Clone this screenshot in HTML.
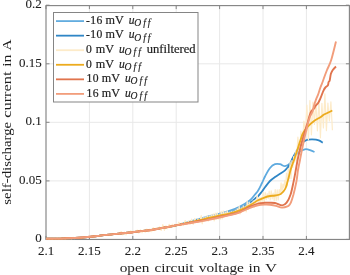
<!DOCTYPE html>
<html><head><meta charset="utf-8"><style>
html,body{margin:0;padding:0;background:#fff;width:350px;height:275px;overflow:hidden}
svg{display:block;will-change:transform;font-family:"Liberation Serif",serif;fill:#1e1e1e;font-variant-ligatures:none}
text{font-size:12.5px;font-family:"Liberation Serif",serif;font-variant-ligatures:none}
.tk{font-size:13px;stroke:#1e1e1e;stroke-width:0.1px}
.lt{font-size:11.6px;stroke:#1e1e1e;stroke-width:0.2px}
.ls{font-size:9.6px;stroke:#1e1e1e;stroke-width:0.15px}
.it{font-style:italic}
</style></head><body>
<svg width="350" height="275" viewBox="0 0 350 275">
<rect x="0" y="0" width="350" height="275" fill="#fff"/>
<line x1="89.4" y1="5.6" x2="89.4" y2="239.45" stroke="#e8e8e8" stroke-width="1"/>
<line x1="132.8" y1="5.6" x2="132.8" y2="239.45" stroke="#e8e8e8" stroke-width="1"/>
<line x1="176.2" y1="5.6" x2="176.2" y2="239.45" stroke="#e8e8e8" stroke-width="1"/>
<line x1="219.6" y1="5.6" x2="219.6" y2="239.45" stroke="#e8e8e8" stroke-width="1"/>
<line x1="263.0" y1="5.6" x2="263.0" y2="239.45" stroke="#e8e8e8" stroke-width="1"/>
<line x1="306.4" y1="5.6" x2="306.4" y2="239.45" stroke="#e8e8e8" stroke-width="1"/>
<line x1="46.0" y1="180.9" x2="349.4" y2="180.9" stroke="#e8e8e8" stroke-width="1"/>
<line x1="46.0" y1="122.3" x2="349.4" y2="122.3" stroke="#e8e8e8" stroke-width="1"/>
<line x1="46.0" y1="63.8" x2="349.4" y2="63.8" stroke="#e8e8e8" stroke-width="1"/>
<rect x="46.0" y="5.6" width="303.40" height="233.85" fill="none" stroke="#858585" stroke-width="1.15"/>
<line x1="46.0" y1="239.45" x2="46.0" y2="235.95" stroke="#858585" stroke-width="1"/>
<line x1="46.0" y1="5.6" x2="46.0" y2="9.1" stroke="#858585" stroke-width="1"/>
<line x1="89.4" y1="239.45" x2="89.4" y2="235.95" stroke="#858585" stroke-width="1"/>
<line x1="89.4" y1="5.6" x2="89.4" y2="9.1" stroke="#858585" stroke-width="1"/>
<line x1="132.8" y1="239.45" x2="132.8" y2="235.95" stroke="#858585" stroke-width="1"/>
<line x1="132.8" y1="5.6" x2="132.8" y2="9.1" stroke="#858585" stroke-width="1"/>
<line x1="176.2" y1="239.45" x2="176.2" y2="235.95" stroke="#858585" stroke-width="1"/>
<line x1="176.2" y1="5.6" x2="176.2" y2="9.1" stroke="#858585" stroke-width="1"/>
<line x1="219.6" y1="239.45" x2="219.6" y2="235.95" stroke="#858585" stroke-width="1"/>
<line x1="219.6" y1="5.6" x2="219.6" y2="9.1" stroke="#858585" stroke-width="1"/>
<line x1="263.0" y1="239.45" x2="263.0" y2="235.95" stroke="#858585" stroke-width="1"/>
<line x1="263.0" y1="5.6" x2="263.0" y2="9.1" stroke="#858585" stroke-width="1"/>
<line x1="306.4" y1="239.45" x2="306.4" y2="235.95" stroke="#858585" stroke-width="1"/>
<line x1="306.4" y1="5.6" x2="306.4" y2="9.1" stroke="#858585" stroke-width="1"/>
<line x1="46.0" y1="239.4" x2="49.5" y2="239.4" stroke="#858585" stroke-width="1"/>
<line x1="349.4" y1="239.4" x2="345.9" y2="239.4" stroke="#858585" stroke-width="1"/>
<line x1="46.0" y1="180.9" x2="49.5" y2="180.9" stroke="#858585" stroke-width="1"/>
<line x1="349.4" y1="180.9" x2="345.9" y2="180.9" stroke="#858585" stroke-width="1"/>
<line x1="46.0" y1="122.3" x2="49.5" y2="122.3" stroke="#858585" stroke-width="1"/>
<line x1="349.4" y1="122.3" x2="345.9" y2="122.3" stroke="#858585" stroke-width="1"/>
<line x1="46.0" y1="63.8" x2="49.5" y2="63.8" stroke="#858585" stroke-width="1"/>
<line x1="349.4" y1="63.8" x2="345.9" y2="63.8" stroke="#858585" stroke-width="1"/>
<line x1="46.0" y1="5.2" x2="49.5" y2="5.2" stroke="#858585" stroke-width="1"/>
<line x1="349.4" y1="5.2" x2="345.9" y2="5.2" stroke="#858585" stroke-width="1"/>
<path d="M46.0,238.6 C48.3,238.6 55.2,238.7 60.0,238.6 C64.8,238.5 70.0,238.3 75.0,238.0 C80.0,237.7 85.8,237.2 90.0,236.8 C94.2,236.4 96.7,236.0 100.0,235.6 C103.3,235.2 106.7,234.9 110.0,234.6 C113.3,234.2 116.2,233.9 120.0,233.5 C123.8,233.1 129.7,232.6 133.0,232.2 C136.3,231.8 137.2,231.5 140.0,231.2 C142.8,230.9 146.7,230.7 150.0,230.2 C153.3,229.7 156.7,229.0 160.0,228.4 C163.3,227.8 167.3,227.1 170.0,226.6 C172.7,226.1 172.7,226.2 176.0,225.4 C179.3,224.6 185.2,222.9 190.0,221.6 C194.8,220.2 200.3,218.5 205.0,217.3 C209.7,216.1 213.8,215.3 218.0,214.2 C222.2,213.1 226.3,212.0 230.0,210.7 C233.7,209.4 236.7,208.2 240.0,206.5 C243.3,204.8 247.5,202.2 250.0,200.2 C252.5,198.2 253.7,196.1 255.0,194.5 C256.3,192.9 256.8,192.7 258.0,190.8 C259.2,188.9 260.8,185.4 262.0,183.0 C263.2,180.6 263.7,179.0 265.0,176.5 C266.3,174.0 268.3,170.1 270.0,168.0 C271.7,165.9 273.3,164.8 275.0,164.2 C276.7,163.6 278.3,163.9 280.0,164.2 C281.7,164.5 283.3,166.3 285.0,166.2 C286.7,166.1 288.7,164.8 290.0,163.5 C291.3,162.2 292.0,159.9 293.0,158.4 C294.0,156.9 294.8,155.7 296.0,154.5 C297.2,153.3 298.8,152.2 300.0,151.5 C301.2,150.8 302.0,150.4 303.0,150.0 C304.0,149.6 304.8,149.2 306.0,149.2 C307.2,149.2 308.6,149.7 310.0,150.2 C311.4,150.7 313.8,151.7 314.5,152.0" fill="none" stroke="#5eaadf" stroke-width="1.8" stroke-linejoin="round" stroke-linecap="butt"/>
<path d="M46.0,238.6 C48.3,238.6 55.2,238.7 60.0,238.6 C64.8,238.5 70.0,238.3 75.0,238.0 C80.0,237.7 85.8,237.2 90.0,236.8 C94.2,236.4 96.7,236.0 100.0,235.6 C103.3,235.2 106.7,234.9 110.0,234.6 C113.3,234.2 116.2,233.9 120.0,233.5 C123.8,233.1 129.7,232.6 133.0,232.2 C136.3,231.8 137.2,231.5 140.0,231.2 C142.8,230.9 146.7,230.7 150.0,230.2 C153.3,229.7 156.7,229.0 160.0,228.4 C163.3,227.8 167.3,227.1 170.0,226.6 C172.7,226.1 172.7,226.1 176.0,225.4 C179.3,224.7 185.2,223.4 190.0,222.2 C194.8,221.0 200.3,219.5 205.0,218.4 C209.7,217.3 213.8,216.4 218.0,215.4 C222.2,214.4 226.3,213.5 230.0,212.3 C233.7,211.1 236.7,210.0 240.0,208.4 C243.3,206.8 247.5,204.4 250.0,202.8 C252.5,201.2 253.7,199.7 255.0,198.6 C256.3,197.5 256.8,197.5 258.0,196.3 C259.2,195.1 260.8,193.0 262.0,191.5 C263.2,190.0 263.7,189.1 265.0,187.3 C266.3,185.6 268.3,182.7 270.0,181.0 C271.7,179.3 273.3,178.2 275.0,177.0 C276.7,175.8 278.3,174.9 280.0,173.8 C281.7,172.7 283.3,171.9 285.0,170.3 C286.7,168.7 288.8,166.2 290.0,164.2 C291.2,162.2 291.5,160.5 292.5,158.5 C293.5,156.5 294.8,154.1 296.0,152.0 C297.2,149.9 298.8,147.6 300.0,146.0 C301.2,144.4 302.1,143.2 303.0,142.3 C303.9,141.4 304.7,141.1 305.5,140.6 C306.3,140.1 306.9,139.8 308.0,139.6 C309.1,139.4 310.7,139.3 312.0,139.3 C313.3,139.3 314.8,139.4 316.0,139.6 C317.2,139.8 318.4,140.1 319.5,140.6 C320.6,141.1 322.2,142.3 322.8,142.6" fill="none" stroke="#2f86c6" stroke-width="1.8" stroke-linejoin="round" stroke-linecap="butt"/>
<path d="M46.0,239.0 L47.6,238.3 L49.2,239.2 L50.8,238.4 L52.4,239.1 L54.0,238.2 L55.6,238.8 L57.2,238.1 L58.8,238.8 L60.4,238.1 L62.0,238.8 L63.6,238.2 L65.2,238.8 L66.8,237.6 L68.4,238.5 L70.0,237.9 L71.6,238.7 L73.2,237.3 L74.8,238.6 L76.4,237.4 L78.0,238.5 L79.6,237.4 L81.2,238.2 L82.8,237.0 L84.4,237.5 L86.0,236.8 L87.6,237.4 L89.2,236.2 L90.8,237.0 L92.4,236.0 L94.0,236.9 L95.6,235.7 L97.2,236.5 L98.8,235.5 L100.4,235.8 L102.0,235.1 L103.6,235.8 L105.2,234.6 L106.8,235.3 L108.4,234.2 L110.0,235.1 L111.6,234.0 L113.2,234.9 L114.8,233.5 L116.4,234.2 L118.0,233.2 L119.6,234.1 L121.2,231.6 L122.8,234.8 L124.4,232.1 L126.0,234.9 L127.6,232.1 L129.2,233.7 L130.8,230.8 L132.4,233.0 L134.0,230.8 L135.6,232.4 L137.2,230.1 L138.8,233.0 L140.4,229.8 L142.0,232.8 L143.6,229.9 L145.2,232.2 L146.8,229.1 L148.4,231.7 L150.0,229.0 L151.6,231.7 L153.2,227.7 L154.8,230.5 L156.4,227.6 L158.0,229.4 L159.6,226.9 L161.2,230.5 L162.8,224.7 L164.4,230.4 L166.0,225.8 L167.6,228.8 L169.2,224.3 L170.8,227.3 L172.4,224.2 L174.0,227.0 L175.6,224.4 L177.2,226.1 L178.8,222.2 L180.4,225.6 L182.0,222.7 L183.6,225.5 L185.2,220.5 L186.8,224.1 L188.4,220.9 L190.0,224.5 L191.6,219.1 L193.2,224.4 L194.8,218.4 L196.4,222.3 L198.0,218.7 L199.6,221.8 L201.2,215.6 L202.2,223.8 L203.2,217.6 L204.2,220.7 L205.2,216.8 L206.2,220.4 L207.2,215.5 L208.2,221.2 L209.2,215.8 L210.2,218.7 L211.2,214.8 L212.2,219.5 L213.2,213.9 L214.2,221.0 L215.2,213.0 L216.2,219.1 L217.2,212.8 L218.2,219.2 L219.2,214.2 L220.2,219.5 L221.2,211.4 L222.2,219.0 L223.2,210.9 L224.2,217.0 L225.2,211.8 L226.2,215.6 L227.2,210.6 L228.2,215.0 L229.2,212.1 L230.2,215.1 L231.2,211.3 L232.2,214.9 L233.2,211.0 L234.2,213.1 L235.2,210.1 L236.2,212.8 L237.2,208.7 L238.2,212.0 L239.2,206.4 L240.2,214.0 L241.2,207.6 L242.2,211.5 L243.2,205.8 L244.2,211.0 L245.2,205.8 L246.2,212.0 L247.2,201.2 L248.2,209.5 L249.2,202.3 L250.2,206.9 L251.2,202.8 L252.2,206.7 L253.2,200.8 L254.2,207.5 L255.2,200.0 L256.2,202.9 L257.2,195.5 L258.2,203.8 L259.2,197.8 L260.2,203.0 L261.2,197.4 L262.2,202.1 L263.2,192.7 L264.2,202.6 L265.2,192.6 L266.2,199.7 L267.2,193.6 L268.2,198.7 L269.2,191.2 L270.2,199.9 L271.2,190.9 L272.2,198.8 L273.2,193.2 L274.2,200.7 L275.2,189.5 L276.2,200.5 L277.2,189.8 L278.2,199.9 L279.2,189.6 L280.2,192.9 L281.1,182.9 L282.0,192.3 L282.9,184.1 L283.8,188.0 L284.7,180.3 L285.6,186.7 L286.5,173.0 L287.4,185.9 L288.3,168.6 L289.2,178.8 L290.1,161.9 L291.0,178.4 L291.9,160.6 L292.8,167.5 L293.7,156.6 L294.6,162.2 L295.5,151.5 L296.4,160.4 L297.9,137.0 L299.4,154.3 L300.9,131.0 L302.4,143.8 L303.9,121.2 L305.4,132.1 L306.9,105.2 L308.4,139.8 L309.9,100.5 L311.4,134.8 L312.9,102.0 L314.4,124.4 L315.9,101.6 L317.4,130.8 L318.9,99.8 L320.4,137.8 L321.9,103.4 L323.4,127.9 L324.9,93.8 L326.4,130.6 L327.9,103.0 L329.4,121.0 L330.9,101.8 L332.4,130.2" fill="none" stroke="#fdebc9" stroke-width="1.2" stroke-linejoin="round" stroke-linecap="butt"/>
<path d="M46.0,238.6 C48.3,238.6 55.2,238.7 60.0,238.6 C64.8,238.5 70.0,238.3 75.0,238.0 C80.0,237.7 85.8,237.2 90.0,236.8 C94.2,236.4 96.7,236.0 100.0,235.6 C103.3,235.2 106.7,234.9 110.0,234.6 C113.3,234.2 116.2,233.9 120.0,233.5 C123.8,233.1 129.7,232.6 133.0,232.2 C136.3,231.8 137.2,231.5 140.0,231.2 C142.8,230.9 146.7,230.7 150.0,230.2 C153.3,229.7 156.7,229.0 160.0,228.4 C163.3,227.8 167.3,227.1 170.0,226.6 C172.7,226.1 172.7,226.1 176.0,225.4 C179.3,224.7 185.2,223.5 190.0,222.4 C194.8,221.3 200.3,219.9 205.0,218.8 C209.7,217.7 213.8,216.7 218.0,215.8 C222.2,214.9 226.3,214.2 230.0,213.3 C233.7,212.4 236.7,211.5 240.0,210.2 C243.3,208.9 247.0,207.0 250.0,205.3 C253.0,203.7 255.5,201.6 258.0,200.3 C260.5,199.0 263.0,198.0 265.0,197.3 C267.0,196.6 268.3,196.3 270.0,196.0 C271.7,195.7 273.2,195.8 275.0,195.5 C276.8,195.2 279.1,195.1 280.8,194.0 C282.5,192.9 284.1,191.0 285.2,188.9 C286.3,186.8 286.8,184.3 287.6,181.6 C288.4,178.9 289.2,175.3 289.8,172.9 C290.4,170.5 290.8,169.2 291.5,167.0 C292.2,164.8 293.1,162.7 294.0,160.0 C294.9,157.3 296.1,153.8 297.0,151.0 C297.9,148.2 298.7,145.6 299.6,142.9 C300.5,140.2 301.5,136.8 302.2,134.9 C302.9,133.1 303.0,133.0 303.8,131.8 C304.6,130.6 305.8,128.9 306.9,127.6 C308.0,126.3 309.1,125.2 310.4,124.0 C311.7,122.8 313.1,121.5 314.7,120.4 C316.3,119.3 318.4,118.5 320.0,117.5 C321.6,116.5 322.4,115.5 324.5,114.3 C326.6,113.1 331.0,111.1 332.3,110.5" fill="none" stroke="#ecab1e" stroke-width="1.8" stroke-linejoin="round" stroke-linecap="butt"/>
<path d="M46.0,238.6 C48.3,238.6 55.2,238.7 60.0,238.6 C64.8,238.5 70.0,238.3 75.0,238.0 C80.0,237.7 85.8,237.2 90.0,236.8 C94.2,236.4 96.7,236.0 100.0,235.6 C103.3,235.2 106.7,234.9 110.0,234.6 C113.3,234.2 116.2,233.9 120.0,233.5 C123.8,233.1 129.7,232.6 133.0,232.2 C136.3,231.8 137.2,231.5 140.0,231.2 C142.8,230.9 146.7,230.7 150.0,230.2 C153.3,229.7 156.7,229.0 160.0,228.4 C163.3,227.8 167.3,227.1 170.0,226.6 C172.7,226.1 172.7,226.0 176.0,225.4 C179.3,224.8 185.2,223.7 190.0,222.8 C194.8,221.9 200.3,221.0 205.0,220.1 C209.7,219.2 213.8,218.1 218.0,217.2 C222.2,216.3 226.3,215.6 230.0,214.7 C233.7,213.8 236.7,213.2 240.0,211.8 C243.3,210.5 247.0,208.0 250.0,206.6 C253.0,205.2 255.5,204.2 258.0,203.6 C260.5,203.0 263.0,203.0 265.0,202.8 C267.0,202.7 268.3,202.7 270.0,202.7 C271.7,202.7 272.9,202.6 275.0,203.0 C277.1,203.4 280.4,205.5 282.3,205.4 C284.2,205.3 285.2,204.5 286.6,202.7 C288.0,200.9 289.3,198.2 290.5,194.7 C291.7,191.2 292.7,185.7 293.6,181.6 C294.5,177.5 295.1,173.9 295.8,170.0 C296.5,166.1 297.2,161.7 298.0,158.0 C298.8,154.3 299.5,151.2 300.3,148.0 C301.1,144.8 302.1,141.3 302.9,138.5 C303.7,135.7 304.2,134.0 305.0,131.3 C305.8,128.6 306.9,125.2 307.7,122.5 C308.5,119.8 309.1,117.2 309.7,115.3 C310.3,113.4 310.8,112.1 311.5,111.0 C312.2,109.9 313.2,109.5 313.9,108.7 C314.6,107.9 314.8,107.0 315.5,106.0 C316.2,105.0 317.5,104.0 318.3,102.7 C319.1,101.4 319.8,99.9 320.4,98.4 C321.0,97.0 321.6,95.4 322.1,94.0 C322.7,92.6 323.1,91.3 323.7,90.2 C324.2,89.1 324.7,88.3 325.4,87.5 C326.1,86.7 327.4,86.2 327.9,85.3 C328.4,84.4 328.3,82.8 328.6,82.0 C328.9,81.2 329.3,81.8 329.7,80.4 C330.1,79.0 330.4,75.5 330.9,73.8 C331.4,72.1 331.8,71.4 332.6,70.2 C333.5,69.0 335.4,67.1 336.0,66.5" fill="none" stroke="#e0744d" stroke-width="1.9" stroke-linejoin="round" stroke-linecap="butt"/>
<path d="M46.0,238.6 C48.3,238.6 55.2,238.7 60.0,238.6 C64.8,238.5 70.0,238.3 75.0,238.0 C80.0,237.7 85.8,237.2 90.0,236.8 C94.2,236.4 96.7,236.0 100.0,235.6 C103.3,235.2 106.7,234.9 110.0,234.6 C113.3,234.2 116.2,233.9 120.0,233.5 C123.8,233.1 129.7,232.6 133.0,232.2 C136.3,231.8 137.2,231.5 140.0,231.2 C142.8,230.9 146.7,230.7 150.0,230.2 C153.3,229.7 156.7,229.0 160.0,228.4 C163.3,227.8 167.3,227.1 170.0,226.6 C172.7,226.1 172.7,226.0 176.0,225.4 C179.3,224.8 185.2,223.9 190.0,223.1 C194.8,222.3 200.3,221.5 205.0,220.6 C209.7,219.7 213.8,218.7 218.0,217.8 C222.2,216.9 226.3,216.1 230.0,215.2 C233.7,214.3 236.7,213.5 240.0,212.3 C243.3,211.1 247.0,209.0 250.0,207.8 C253.0,206.6 255.5,205.8 258.0,205.3 C260.5,204.8 263.0,204.7 265.0,204.6 C267.0,204.5 268.2,204.6 270.0,204.8 C271.8,205.0 273.9,205.3 276.0,205.8 C278.1,206.3 280.1,207.8 282.3,207.6 C284.6,207.4 287.6,207.1 289.5,204.9 C291.4,202.8 292.2,198.6 293.4,194.7 C294.5,190.8 295.6,185.7 296.4,181.6 C297.2,177.5 297.4,173.6 298.0,170.0 C298.6,166.4 299.4,163.3 300.0,160.0 C300.6,156.7 301.2,153.3 301.9,150.0 C302.6,146.7 303.3,143.2 304.0,140.0 C304.7,136.8 305.5,133.8 306.2,131.0 C306.9,128.2 307.3,125.5 308.0,123.0 C308.7,120.5 309.4,117.9 310.2,116.0 C311.0,114.1 312.1,112.8 312.6,111.5 C313.1,110.2 313.1,109.5 313.4,108.2 C313.7,106.9 314.1,105.3 314.5,103.8 C314.9,102.3 315.5,101.0 316.1,99.4 C316.7,97.8 317.6,96.0 318.3,94.0 C319.0,92.0 319.7,89.5 320.4,87.5 C321.1,85.5 322.0,83.5 322.6,82.0 C323.2,80.5 323.2,80.2 323.9,78.2 C324.6,76.2 325.8,73.0 327.0,70.0 C328.2,67.0 329.7,64.8 331.2,60.0 C332.7,55.2 335.2,44.5 336.0,41.4" fill="none" stroke="#f29d7b" stroke-width="1.9" stroke-linejoin="round" stroke-linecap="butt"/>
<text x="46.0" y="254.6" text-anchor="middle" class="tk">2.1</text>
<text x="89.4" y="254.6" text-anchor="middle" class="tk">2.15</text>
<text x="132.8" y="254.6" text-anchor="middle" class="tk">2.2</text>
<text x="176.2" y="254.6" text-anchor="middle" class="tk">2.25</text>
<text x="219.6" y="254.6" text-anchor="middle" class="tk">2.3</text>
<text x="263.0" y="254.6" text-anchor="middle" class="tk">2.35</text>
<text x="306.4" y="254.6" text-anchor="middle" class="tk">2.4</text>
<text x="41.8" y="242.4" text-anchor="end" class="tk">0</text>
<text x="41.8" y="183.9" text-anchor="end" class="tk">0.05</text>
<text x="41.8" y="125.3" text-anchor="end" class="tk">0.1</text>
<text x="41.8" y="66.8" text-anchor="end" class="tk">0.15</text>
<text x="41.8" y="8.2" text-anchor="end" class="tk">0.2</text>
<text x="119.7" y="271.5" textLength="29.7" lengthAdjust="spacingAndGlyphs">open</text>
<text x="154.4" y="271.5" textLength="39.2" lengthAdjust="spacingAndGlyphs">circuit</text>
<text x="198.8" y="271.5" textLength="45.1" lengthAdjust="spacingAndGlyphs">voltage</text>
<text x="248.6" y="271.5" textLength="12.0" lengthAdjust="spacingAndGlyphs">in</text>
<text x="264.9" y="271.5" textLength="12.0" lengthAdjust="spacingAndGlyphs">V</text>
<text transform="translate(10.9,204.7) rotate(-90)" textLength="82.9" lengthAdjust="spacingAndGlyphs">self-discharge</text>
<text transform="translate(10.9,117.8) rotate(-90)" textLength="46.4" lengthAdjust="spacingAndGlyphs">current</text>
<text transform="translate(10.9,66.8) rotate(-90)" textLength="12.3" lengthAdjust="spacingAndGlyphs">in</text>
<text transform="translate(10.9,50.6) rotate(-90)" textLength="11.1" lengthAdjust="spacingAndGlyphs">A</text>
<rect x="53.5" y="12.5" width="144.5" height="89.5" fill="#fff" stroke="#858585" stroke-width="1"/>
<line x1="56" y1="21.10" x2="84" y2="21.10" stroke="#62acdf" stroke-width="1.8"/>
<text x="85.9" y="23.90" class="lt" textLength="16.4" lengthAdjust="spacing">-16</text>
<text x="105.5" y="23.90" class="lt" textLength="18.2" lengthAdjust="spacingAndGlyphs">mV</text>
<text x="128.8" y="23.90" class="lt it">u</text>
<text x="134.3" y="26.10" class="ls it" textLength="16.2" lengthAdjust="spacing">Off</text>
<line x1="56" y1="35.66" x2="84" y2="35.66" stroke="#2f86c6" stroke-width="1.8"/>
<text x="85.9" y="38.46" class="lt" textLength="16.4" lengthAdjust="spacing">-10</text>
<text x="105.5" y="38.46" class="lt" textLength="18.2" lengthAdjust="spacingAndGlyphs">mV</text>
<text x="128.8" y="38.46" class="lt it">u</text>
<text x="134.3" y="40.66" class="ls it" textLength="16.2" lengthAdjust="spacing">Off</text>
<line x1="56" y1="50.22" x2="84" y2="50.22" stroke="#fdebc9" stroke-width="1.8"/>
<text x="86.0" y="53.02" class="lt" textLength="6.6" lengthAdjust="spacing">0</text>
<text x="95.8" y="53.02" class="lt" textLength="18.2" lengthAdjust="spacingAndGlyphs">mV</text>
<text x="119.1" y="53.02" class="lt it">u</text>
<text x="124.6" y="55.22" class="ls it" textLength="16.2" lengthAdjust="spacing">Off</text>
<text x="146.8" y="53.02" class="lt" textLength="48.8" lengthAdjust="spacingAndGlyphs">unfiltered</text>
<line x1="56" y1="64.78" x2="84" y2="64.78" stroke="#ecab1e" stroke-width="1.8"/>
<text x="86.0" y="67.58" class="lt" textLength="6.6" lengthAdjust="spacing">0</text>
<text x="95.8" y="67.58" class="lt" textLength="18.2" lengthAdjust="spacingAndGlyphs">mV</text>
<text x="119.1" y="67.58" class="lt it">u</text>
<text x="124.6" y="69.78" class="ls it" textLength="16.2" lengthAdjust="spacing">Off</text>
<line x1="56" y1="79.34" x2="84" y2="79.34" stroke="#e0744d" stroke-width="1.8"/>
<text x="86.4" y="82.14" class="lt" textLength="12.2" lengthAdjust="spacing">10</text>
<text x="101.8" y="82.14" class="lt" textLength="18.2" lengthAdjust="spacingAndGlyphs">mV</text>
<text x="125.1" y="82.14" class="lt it">u</text>
<text x="130.6" y="84.34" class="ls it" textLength="16.2" lengthAdjust="spacing">Off</text>
<line x1="56" y1="93.90" x2="84" y2="93.90" stroke="#f29d7b" stroke-width="1.8"/>
<text x="86.4" y="96.70" class="lt" textLength="12.2" lengthAdjust="spacing">16</text>
<text x="101.8" y="96.70" class="lt" textLength="18.2" lengthAdjust="spacingAndGlyphs">mV</text>
<text x="125.1" y="96.70" class="lt it">u</text>
<text x="130.6" y="98.90" class="ls it" textLength="16.2" lengthAdjust="spacing">Off</text>
</svg>
</body></html>
